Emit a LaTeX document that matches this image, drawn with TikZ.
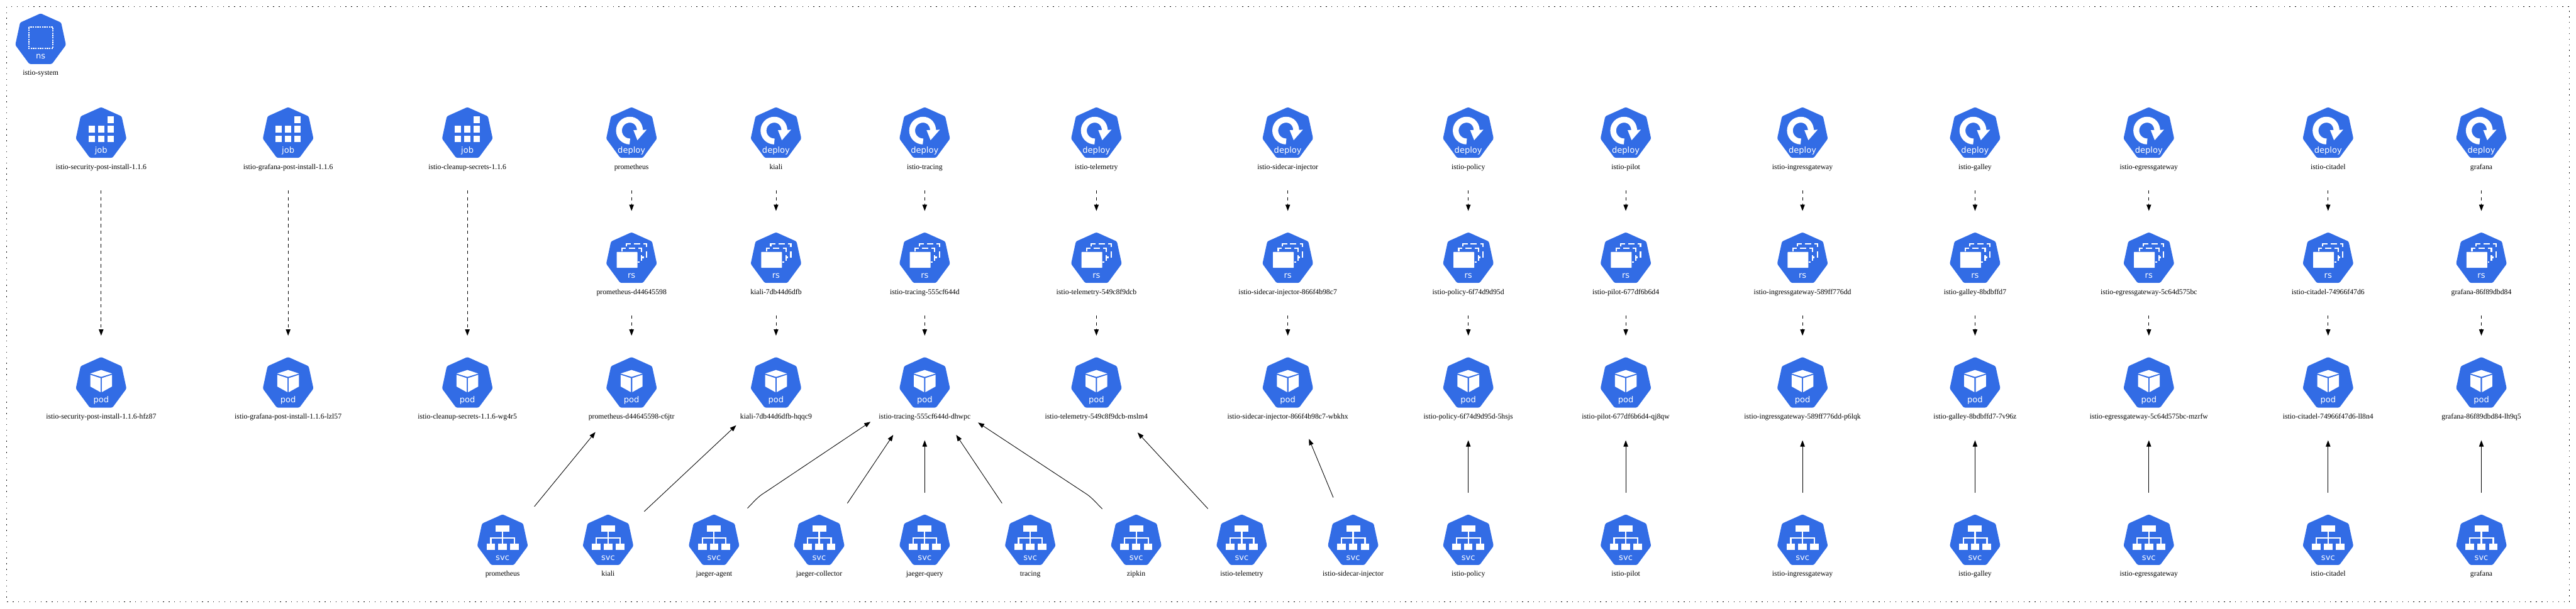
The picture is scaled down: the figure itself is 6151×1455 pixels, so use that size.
\documentclass[tikz,border=0pt]{standalone}
\usepackage{fontspec}
\setmainfont{Liberation Serif}
\newfontfamily\iconfont{DejaVu Sans}
\usetikzlibrary{arrows.meta,shapes.geometric}
\definecolor{kblue}{HTML}{326CE5}
\newcommand\lblf{\fontsize{17.6}{20}\selectfont}
\newbox\kbox
\newdimen\kdim
\tikzset{
  gvnode/.style={ellipse,inner sep=0pt,outer sep=0pt,minimum height=250pt},
  klabel/.style={anchor=base,inner sep=0pt,font=\lblf,text=black},
  icontext/.style={anchor=base,inner sep=0pt,text=white,font={\iconfont\fontsize{19.6}{22}\selectfont}},
  hept/.style={fill=kblue,rounded corners=3.5pt},
  glyph/.style={fill=white},
  glyphline/.style={draw=white,line width=3.3pt},
  rel/.style={draw=black,line width=1.3pt,-{Triangle[length=15pt,width=11pt]}},
  owns/.style={rel,dash pattern=on 8pt off 8pt},
  frame/.style={draw=black,line width=1.3pt,dash pattern=on 2pt off 11.3pt}
}
\newcommand\iconns[1]{%
  \draw[white,line width=3.3pt,dash pattern=on 3.5pt off 2pt] (-28,33) rectangle (29,84);
  \node[icontext] (#1-t) at (0,109) {ns};}
\newcommand\iconjob[1]{%
  \foreach \cx/\cy in {14.7/21.7,-30/44.7,-7.6/44.7,14.7/44.7,-30/67.7,-7.6/67.7,14.7/67.7}
    \fill[glyph] (\cx,\cy) rectangle ++(15.3,16);
  \node[icontext] (#1-t) at (0,110) {job};}
\newcommand\icondeploy[1]{%
  \draw[white,line width=14pt] (-4,82) .. controls (-18.4,82) and (-30,70.4) .. (-30,56)
     .. controls (-30,41.6) and (-18.4,30) .. (-4,30) .. controls (10.4,30) and (20,41.6) .. (20,56);
  \fill[glyph] (4.5,55) -- (36,54) -- (14,79) -- cycle;
  \node[icontext] (#1-t) at (0,109) {deploy};}
\newcommand\iconrs[1]{%
  \fill[glyph,rounded corners=1pt] (-35.5,47) rectangle (14,85);
  \draw[glyphline] (-12.7,33.5) -- (-12.7,28) -- (-1.7,28);
  \draw[glyphline] (5.7,28) -- (20.7,28);
  \draw[glyphline] (28.3,28) -- (35.3,28) -- (35.3,35);
  \draw[glyphline] (35.3,45) -- (35.3,60);
  \draw[glyphline] (-22.7,46) -- (-22.7,38.3) -- (-14.3,38.3);
  \draw[glyphline] (-6.7,38.3) -- (8.3,38.3);
  \draw[glyphline] (16,38.3) -- (24,38.3) -- (24,47);
  \draw[glyphline] (24,54.3) -- (24,68.3);
  \draw[glyphline] (24,60) -- (29,60);
  \draw[glyphline] (15,71.7) -- (19.3,71.7);
  \node[icontext] (#1-t) at (0,110) {rs};}
\newcommand\iconpod[1]{%
  \fill[glyph] (0,31) -- (26,39.5) -- (0,47.5) -- (-26,39.5) -- cycle;
  \fill[glyph] (-26,42.5) -- (-1.6,50.5) -- (-1.6,84) -- (-26,70.5) -- cycle;
  \fill[glyph] (26,42.5) -- (1.6,50.5) -- (1.6,84) -- (26,70.5) -- cycle;
  \node[icontext] (#1-t) at (0,109) {pod};}
\newcommand\iconsvc[1]{%
  \fill[glyph] (-16.5,26) rectangle (16.5,40.7);
  \fill[glyph] (-38.3,70.7) rectangle (-17.7,85.3);
  \fill[glyph] (-10.2,70.7) rectangle (10.2,85.3);
  \fill[glyph] (18,70.7) rectangle (38.7,85.3);
  \draw[glyphline] (0,40) -- (0,71);
  \draw[glyphline] (-28,71) -- (-28,56.3) -- (28.5,56.3) -- (28.5,71);
  \node[icontext] (#1-t) at (0,110) {svc};}
% id, x, top y, kind, label
\newcommand\kicon[5]{%
  \setbox\kbox=\hbox{\pgfinterruptpicture\lblf #5\endpgfinterruptpicture}%
  \kdim=\wd\kbox
  \pgfmathsetmacro\kw{(max(139,\the\kdim)+21)*1.4142}%
  \node[gvnode,minimum width=\kw pt] (#1) at (#2,#3+74) {};
  \begin{scope}[shift={(#2,#3)}]
    \path[hept] (0,0) -- (49,22) -- (60.5,75.5) -- (27,121) -- (-27,121) -- (-60.5,75.5) -- (-49,22) -- cycle;
    \csname icon#4\endcsname{#1}
  \end{scope}
  \node[klabel] (#1-l) at (#2,#3+148) {#5};
}
\begin{document}
\begin{tikzpicture}[x=1pt,y=-1pt]
\useasboundingbox (0,0) rectangle (6151,1455);
\coordinate (fa) at (16,16);
\coordinate (fb) at (6135,1438);
\draw[frame] (fa) rectangle (fb);
\kicon{ns}{97}{32}{ns}{istio-system}
% jobs
\kicon{j1}{241.5}{256}{job}{istio-security-post-install-1.1.6}
\kicon{j2}{688}{256}{job}{istio-grafana-post-install-1.1.6}
\kicon{j3}{1116}{256}{job}{istio-cleanup-secrets-1.1.6}
\kicon{p1}{241.5}{853}{pod}{istio-security-post-install-1.1.6-hfz87}
\kicon{p2}{688}{853}{pod}{istio-grafana-post-install-1.1.6-lzl57}
\kicon{p3}{1116}{853}{pod}{istio-cleanup-secrets-1.1.6-wg4r5}
% deployments
\kicon{d4}{1508}{256}{deploy}{prometheus}
\kicon{d5}{1853}{256}{deploy}{kiali}
\kicon{d6}{2208}{256}{deploy}{istio-tracing}
\kicon{d7}{2618}{256}{deploy}{istio-telemetry}
\kicon{d8}{3075}{256}{deploy}{istio-sidecar-injector}
\kicon{d9}{3506}{256}{deploy}{istio-policy}
\kicon{d10}{3882}{256}{deploy}{istio-pilot}
\kicon{d11}{4304}{256}{deploy}{istio-ingressgateway}
\kicon{d12}{4716}{256}{deploy}{istio-galley}
\kicon{d13}{5131}{256}{deploy}{istio-egressgateway}
\kicon{d14}{5559}{256}{deploy}{istio-citadel}
\kicon{d15}{5925}{256}{deploy}{grafana}
% replica sets
\kicon{r4}{1508}{555}{rs}{prometheus-d44645598}
\kicon{r5}{1853}{555}{rs}{kiali-7db44d6dfb}
\kicon{r6}{2208}{555}{rs}{istio-tracing-555cf644d}
\kicon{r7}{2618}{555}{rs}{istio-telemetry-549c8f9dcb}
\kicon{r8}{3075}{555}{rs}{istio-sidecar-injector-866f4b98c7}
\kicon{r9}{3506}{555}{rs}{istio-policy-6f74d9d95d}
\kicon{r10}{3882}{555}{rs}{istio-pilot-677df6b6d4}
\kicon{r11}{4304}{555}{rs}{istio-ingressgateway-589ff776dd}
\kicon{r12}{4716}{555}{rs}{istio-galley-8bdbffd7}
\kicon{r13}{5131}{555}{rs}{istio-egressgateway-5c64d575bc}
\kicon{r14}{5559}{555}{rs}{istio-citadel-74966f47d6}
\kicon{r15}{5925}{555}{rs}{grafana-86f89dbd84}
% pods
\kicon{p4}{1508}{853}{pod}{prometheus-d44645598-c6jtr}
\kicon{p5}{1853}{853}{pod}{kiali-7db44d6dfb-hqqc9}
\kicon{p6}{2208}{853}{pod}{istio-tracing-555cf644d-dhwpc}
\kicon{p7}{2618}{853}{pod}{istio-telemetry-549c8f9dcb-mslm4}
\kicon{p8}{3075}{853}{pod}{istio-sidecar-injector-866f4b98c7-wbkhx}
\kicon{p9}{3506}{853}{pod}{istio-policy-6f74d9d95d-5hsjs}
\kicon{p10}{3882}{853}{pod}{istio-pilot-677df6b6d4-qj8qw}
\kicon{p11}{4304}{853}{pod}{istio-ingressgateway-589ff776dd-p6lqk}
\kicon{p12}{4716}{853}{pod}{istio-galley-8bdbffd7-7v96z}
\kicon{p13}{5131}{853}{pod}{istio-egressgateway-5c64d575bc-mzrfw}
\kicon{p14}{5559}{853}{pod}{istio-citadel-74966f47d6-ll8n4}
\kicon{p15}{5925}{853}{pod}{grafana-86f89dbd84-lh9q5}
% services
\kicon{s1}{1200}{1229}{svc}{prometheus}
\kicon{s2}{1452}{1229}{svc}{kiali}
\kicon{s3}{1705}{1229}{svc}{jaeger-agent}
\kicon{s4}{1956}{1229}{svc}{jaeger-collector}
\kicon{s5}{2208}{1229}{svc}{jaeger-query}
\kicon{s6}{2460}{1229}{svc}{tracing}
\kicon{s7}{2713}{1229}{svc}{zipkin}
\kicon{s8}{2965}{1229}{svc}{istio-telemetry}
\kicon{s9}{3231}{1229}{svc}{istio-sidecar-injector}
\kicon{s10}{3506}{1229}{svc}{istio-policy}
\kicon{s11}{3882}{1229}{svc}{istio-pilot}
\kicon{s12}{4304}{1229}{svc}{istio-ingressgateway}
\kicon{s13}{4716}{1229}{svc}{istio-galley}
\kicon{s14}{5131}{1229}{svc}{istio-egressgateway}
\kicon{s15}{5559}{1229}{svc}{istio-citadel}
\kicon{s16}{5925}{1229}{svc}{grafana}
% ownership
\foreach \a/\b in {j1/p1,j2/p2,j3/p3,d4/r4,d5/r5,d6/r6,d7/r7,d8/r8,d9/r9,d10/r10,d11/r11,d12/r12,d13/r13,d14/r14,d15/r15,r4/p4,r5/p5,r6/p6,r7/p7,r8/p8,r9/p9,r10/p10,r11/p11,r12/p12,r13/p13,r14/p14,r15/p15}
  \draw[owns] (\a) -- (\b);
% service to pod
\foreach \a/\b in {s1/p4,s2/p5,s4/p6,s5/p6,s6/p6,s8/p7,s9/p8,s10/p9,s11/p10,s12/p11,s13/p12,s14/p13,s15/p14,s16/p15}
  \draw[rel] (\a) -- (\b);
\coordinate (jac) at (1812,1186);
\coordinate (jav) at (1829,1175);
\coordinate (zic) at (2603,1186);
\coordinate (ziv) at (2586,1175);
\draw[rel] (s3.48) .. controls (jac) .. (jav) -- (p6.212.6);
\draw[rel] (s7.133.7) .. controls (zic) .. (ziv) -- (p6.327.2);
\end{tikzpicture}
\end{document}
